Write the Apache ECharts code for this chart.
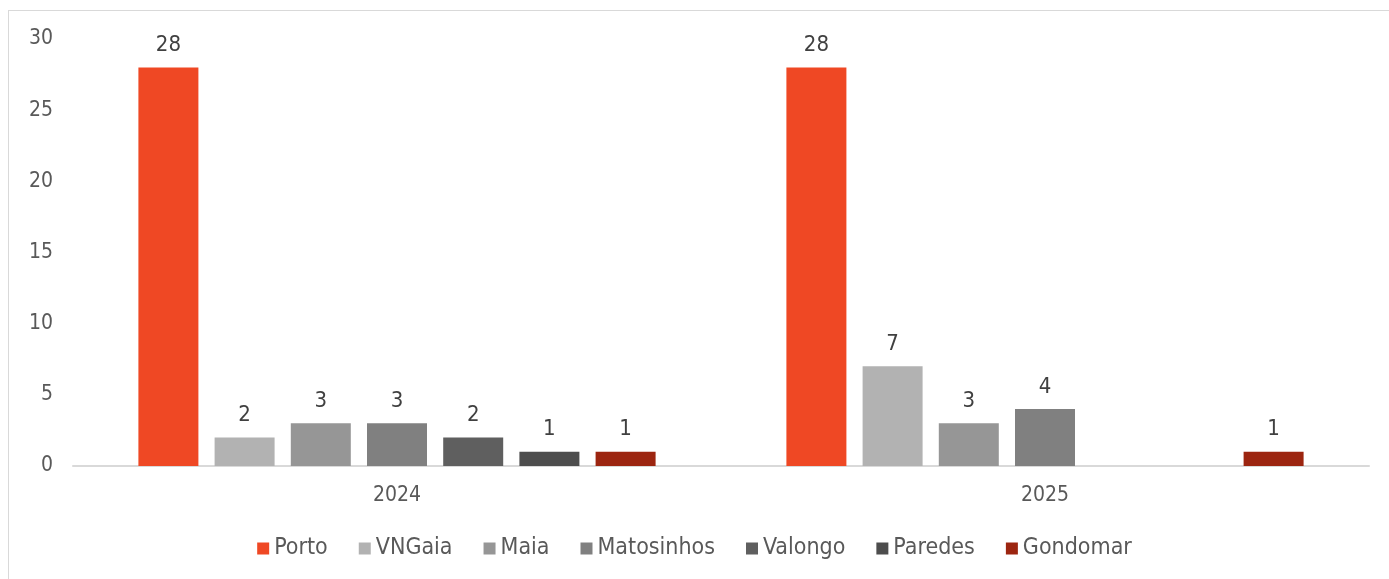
<!DOCTYPE html>
<html>
<head>
<meta charset="utf-8">
<script src="https://cdn.jsdelivr.net/npm/echarts@6/dist/echarts.min.js"></script>
<style>
  html, body { margin: 0; padding: 0; background: #fff; }
  #frame { position: absolute; left: 8px; top: 10px; width: 1400px; height: 600px; border: 1px solid #d9d9d9; }
  #chart { position: absolute; left: 0; top: 0; width: 1389px; height: 579px; }
</style>
</head>
<body>
<div id="frame"></div>
<div id="chart"></div>
<script>
// dados
const years = ['2024', '2025'];
const cities = ['Porto', 'VNGaia', 'Maia', 'Matosinhos', 'Valongo', 'Paredes', 'Gondomar'];
const porto = [28, 28];
const vngaia = [2, 7];
const maia = [3, 3];
const matosinhos = [3, 4];
const valongo = [2, null];
const paredes = [1, null];
const gondomar = [1, 1];

const seriesValues = [porto, vngaia, maia, matosinhos, valongo, paredes, gondomar];
const colors = ['#EF4824', '#B2B2B2', '#969696', '#808080', '#5F5F5F', '#4D4D4D', '#9C2510'];
const fontFamily = '"DejaVu Sans Condensed", "Open Sans", sans-serif';

const chart = echarts.init(document.getElementById('chart'));

const option = {
    animation: false,
    color: colors,
    textStyle: { fontFamily: fontFamily },
    grid: { left: 73, right: 20, top: 39, bottom: 113, containLabel: false },
    legend: {
        bottom: 14,
        left: 'center',
        itemWidth: 12,
        itemHeight: 12,
        itemGap: 31,
        icon: 'rect',
        textStyle: { fontSize: 23, color: '#595959', fontFamily: fontFamily },
        data: cities
    },
    xAxis: {
        type: 'category',
        data: years,
        axisLine: { lineStyle: { color: '#d9d9d9', width: 2 } },
        axisTick: { show: false },
        axisLabel: { fontSize: 21, color: '#595959', margin: 19 }
    },
    yAxis: {
        type: 'value',
        min: 0,
        max: 30,
        interval: 5,
        splitLine: { show: false },
        axisLine: { show: false },
        axisTick: { show: false },
        axisLabel: { fontSize: 21, color: '#595959', margin: 20 }
    },
    series: cities.map((name, i) => ({
        name: name,
        type: 'bar',
        data: seriesValues[i],
        barWidth: 60,
        barGap: '27%',
        label: {
            show: true,
            position: 'top',
            distance: 11,
            fontSize: 22,
            color: '#404040'
        }
    }))
};

chart.setOption(option);
</script>
</body>
</html>
